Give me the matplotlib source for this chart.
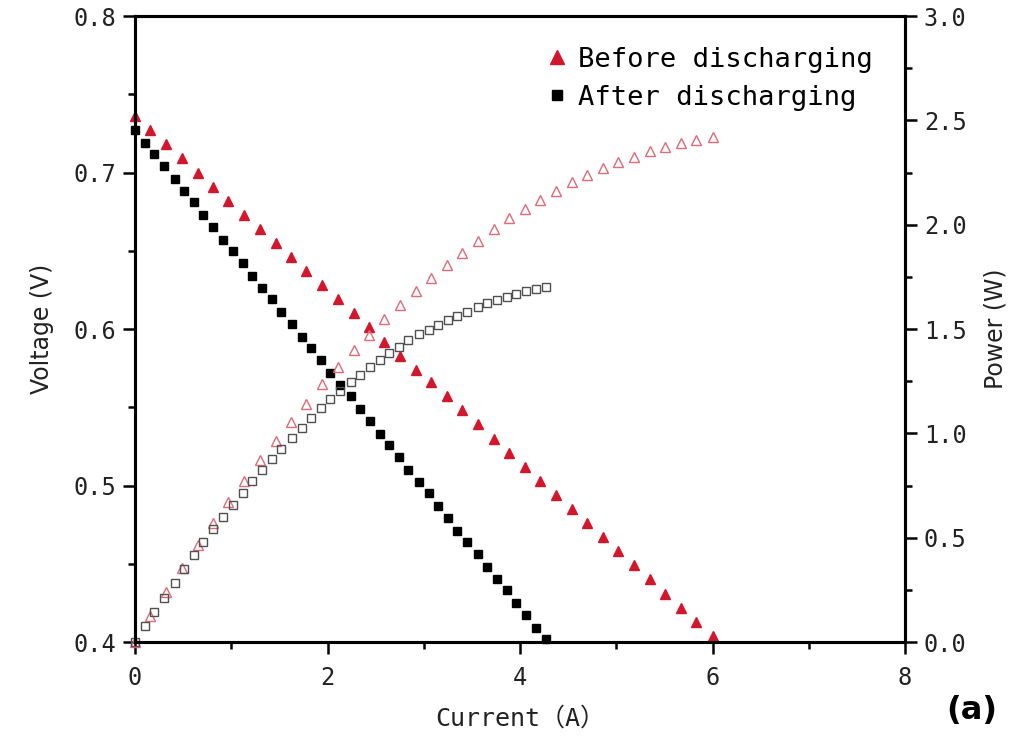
import numpy as np
import matplotlib.pyplot as plt
from matplotlib.ticker import MultipleLocator, FormatStrFormatter

# current (A), voltage (V) and power (W)
I_before = [0, 0.16, 0.32, 0.49, 0.65, 0.81, 0.97, 1.13, 1.30, 1.46,
            1.62, 1.78, 1.94, 2.11, 2.27, 2.43, 2.59, 2.75, 2.92, 3.08,
            3.24, 3.40, 3.56, 3.73, 3.89, 4.05, 4.21, 4.37, 4.54, 4.70,
            4.86, 5.02, 5.18, 5.35, 5.51, 5.67, 5.83, 6.00]
V_before = [0.736, 0.727, 0.718, 0.709, 0.700, 0.691, 0.682, 0.673, 0.664, 0.655,
            0.646, 0.637, 0.628, 0.619, 0.610, 0.601, 0.592, 0.583, 0.574, 0.566,
            0.557, 0.548, 0.539, 0.530, 0.521, 0.512, 0.503, 0.494, 0.485, 0.476,
            0.467, 0.458, 0.449, 0.440, 0.431, 0.422, 0.413, 0.404]
P_before = [0, 0.125, 0.24, 0.355, 0.465, 0.57, 0.672, 0.77, 0.872, 0.965,
            1.055, 1.142, 1.235, 1.318, 1.398, 1.472, 1.546, 1.615, 1.682, 1.746,
            1.807, 1.865, 1.92, 1.977, 2.03, 2.076, 2.12, 2.162, 2.204, 2.238,
            2.27, 2.3, 2.326, 2.352, 2.372, 2.39, 2.404, 2.418]

I_after = [0, 0.10, 0.20, 0.30, 0.41, 0.51, 0.61, 0.71, 0.81, 0.91,
           1.02, 1.12, 1.22, 1.32, 1.42, 1.52, 1.63, 1.73, 1.83, 1.93,
           2.03, 2.13, 2.24, 2.34, 2.44, 2.54, 2.64, 2.74, 2.84, 2.95,
           3.05, 3.15, 3.25, 3.35, 3.45, 3.56, 3.66, 3.76, 3.86, 3.96,
           4.06, 4.17, 4.27]
V_after = [0.727, 0.719, 0.712, 0.704, 0.696, 0.688, 0.681, 0.673, 0.665, 0.657,
           0.650, 0.642, 0.634, 0.626, 0.619, 0.611, 0.603, 0.595, 0.588, 0.580,
           0.572, 0.564, 0.557, 0.549, 0.541, 0.533, 0.526, 0.518, 0.510, 0.502,
           0.495, 0.487, 0.479, 0.471, 0.464, 0.456, 0.448, 0.440, 0.433, 0.425,
           0.417, 0.409, 0.402]
P_after = [0, 0.075, 0.145, 0.212, 0.283, 0.352, 0.417, 0.48, 0.54, 0.598,
           0.658, 0.716, 0.771, 0.825, 0.877, 0.927, 0.979, 1.025, 1.072, 1.12,
           1.166, 1.202, 1.244, 1.281, 1.318, 1.352, 1.385, 1.415, 1.447, 1.476,
           1.497, 1.52, 1.541, 1.562, 1.583, 1.604, 1.623, 1.639, 1.655, 1.668,
           1.683, 1.692, 1.70]

mono = 'DejaVu Sans Mono'

fig = plt.figure(figsize=(10.1, 7.36), dpi=100)
ax = fig.add_axes([0.1337, 0.1277, 0.7624, 0.8505])
ax2 = ax.twinx()

l1, = ax.plot(I_before, V_before, '^', color='#d2162b', ms=7.5, ls='none',
              clip_on=False, label='Before discharging')
l2, = ax.plot(I_after, V_after, 's', color='k', ms=5.5, ls='none',
              clip_on=False, label='After discharging')
ax2.plot(I_before, P_before, '^', mfc='none', mec='#e06a78', ms=7.5, mew=1.0,
         ls='none', clip_on=False)
ax2.plot(I_after, P_after, 's', mfc='none', mec='#505050', ms=5.5, mew=1.0,
         ls='none', clip_on=False)

ax.set_xlim(0, 8)
ax.set_ylim(0.4, 0.8)
ax2.set_ylim(0, 3.0)

ax.xaxis.set_major_locator(MultipleLocator(2))
ax.xaxis.set_minor_locator(MultipleLocator(1))
ax.yaxis.set_major_locator(MultipleLocator(0.1))
ax.yaxis.set_minor_locator(MultipleLocator(0.05))
ax.yaxis.set_major_formatter(FormatStrFormatter('%.1f'))
ax2.yaxis.set_major_locator(MultipleLocator(0.5))
ax2.yaxis.set_minor_locator(MultipleLocator(0.25))
ax2.yaxis.set_major_formatter(FormatStrFormatter('%.1f'))

for a in (ax, ax2):
    for s in a.spines.values():
        s.set_linewidth(2.2)
ax.tick_params(which='major', direction='out', length=8.5, width=1.8,
               labelsize=17, labelcolor='#222222', top=False)
ax.tick_params(which='minor', direction='out', length=5, width=1.8, top=False)
ax.tick_params(axis='x', pad=9)
ax.tick_params(axis='y', pad=5)
ax2.tick_params(which='major', direction='out', length=8.5, width=1.8,
                labelsize=17, labelcolor='#222222', pad=5)
ax2.tick_params(which='minor', direction='out', length=5, width=1.8)
for lab in ax.get_xticklabels() + ax.get_yticklabels() + ax2.get_yticklabels():
    lab.set_family(mono)

ax.set_xlabel('Current（A）', fontsize=18, family=[mono, 'Noto Sans CJK SC'],
              color='#222222', labelpad=12)
ax.set_ylabel('Voltage (V)', fontsize=17, family='DejaVu Sans', color='#222222',
              labelpad=14)
ax2.set_ylabel('Power (W)', fontsize=17, family='DejaVu Sans', color='#222222',
               labelpad=12)

ax.legend(handles=[l1, l2], loc='upper right', bbox_to_anchor=(0.99, 0.99),
          frameon=False, prop={'family': mono, 'size': 19.5},
          handlelength=1.0, handletextpad=0.3, labelspacing=0.45, markerscale=1.3)

fig.text(0.962, 0.035, '(a)', ha='center', va='center', fontsize=23,
         weight='bold', family='DejaVu Sans')

fig.savefig('out.png', dpi=100)
